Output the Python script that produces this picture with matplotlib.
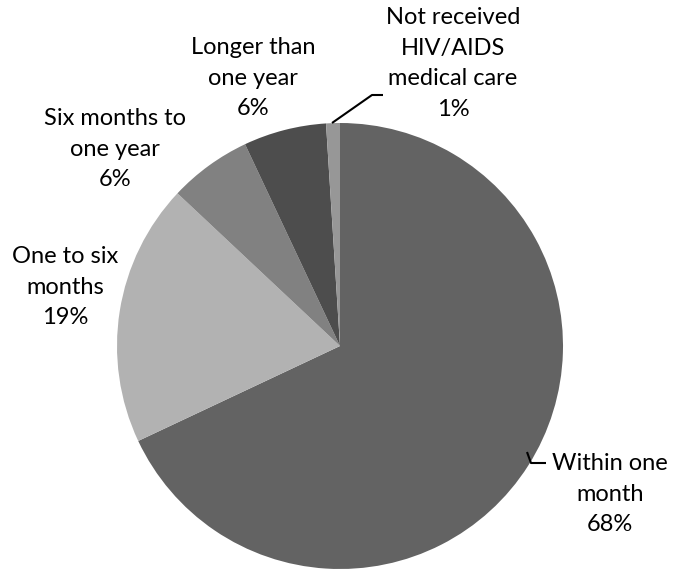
import matplotlib
matplotlib.use("Agg")
import matplotlib.pyplot as plt

categories = ["Within one\nmonth", "One to six\nmonths", "Six months to\none year",
              "Longer than\none year", "Not received\nHIV/AIDS\nmedical care"]
values = [68, 19, 6, 6, 1]
colors = ["#636363", "#b2b2b2", "#818181", "#4d4d4d", "#979797"]

W, H = 673, 569
fig = plt.figure(figsize=(W / 100, H / 100), dpi=100)
ax = fig.add_axes([0, 0, 1, 1])

cx, cy, r = 340, H - 346, 223
ax.pie(values, colors=colors, startangle=90, counterclock=False,
       center=(cx, cy), radius=r, frame=True,
       wedgeprops=dict(linewidth=0))
ax.set_xlim(0, W)
ax.set_ylim(0, H)
ax.set_aspect("equal")
ax.axis("off")

# label anchor positions (pixel coords from top-left: x center, y of top line center)
label_pos = [(610, 463), (65, 256), (115, 118), (253, 47), (453, 17)]
for cat, v, (lx, ly) in zip(categories, values, label_pos):
    txt = f"{cat}\n{v}%"
    ax.text(lx, H - ly + 10, txt, ha="center", va="top", fontsize=17,
            family=["Lato", "DejaVu Sans"], color="#000000",
            linespacing=1.57)

# leader lines
ax.plot([332, 372, 383], [H - 123, H - 95, H - 95], color="black", lw=1.5,
        solid_capstyle="butt")
ax.plot([527, 531, 546], [H - 452, H - 463, H - 463], color="black", lw=1.5,
        solid_capstyle="butt")

fig.savefig("out.png", dpi=100)
